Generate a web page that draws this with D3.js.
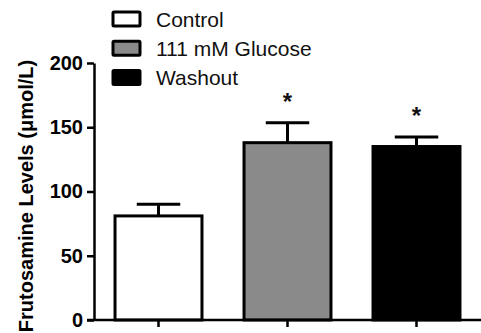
<!DOCTYPE html>
<html>
<head>
<meta charset="utf-8">
<script src="https://cdn.jsdelivr.net/npm/d3@7"></script>
<style>
  body { margin: 0; background: #fff; }
  svg { display: block; font-family: "Liberation Sans", Arial, sans-serif; }
</style>
</head>
<body>
<svg id="drawing_region"></svg>
<script>
// data
const groups = ["Control", "111 mM Glucose", "Washout"];
const means = [81, 138, 135];
const sems = [9, 15.5, 7.5];
const signif = [false, true, true];
const fills = ["#ffffff", "#8a8a8a", "#000000"];
const yticks = [0, 50, 100, 150, 200];

const width = 481, height = 333;
const margin = {top: 63, right: 0, bottom: 13, left: 94};

const svg = d3.select("#drawing_region")
    .attr("width", width)
    .attr("height", height);

const xscale = d3.scaleBand()
    .domain(groups)
    .range([margin.left, width - margin.right])
    .paddingInner(0.326)
    .paddingOuter(0.163);

const yscale = d3.scaleLinear()
    .domain([0, 200])
    .range([height - margin.bottom, margin.top]);

// bars
svg.selectAll("rect.bar")
    .data(groups)
    .enter()
    .append("rect")
    .attr("class", "bar")
    .attr("x", d => xscale(d))
    .attr("y", (d, i) => yscale(means[i]))
    .attr("width", xscale.bandwidth())
    .attr("height", (d, i) => yscale(0) - yscale(means[i]))
    .attr("fill", (d, i) => fills[i])
    .attr("stroke", "#000")
    .attr("stroke-width", 3);

// error bars (upper only)
const err = svg.append("g").attr("stroke", "#000").attr("stroke-width", 3);
groups.forEach((g, i) => {
    const cx = xscale(g) + xscale.bandwidth() / 2;
    err.append("line")
        .attr("x1", cx).attr("x2", cx)
        .attr("y1", yscale(means[i])).attr("y2", yscale(means[i] + sems[i]));
    err.append("line")
        .attr("x1", cx - xscale.bandwidth() / 4).attr("x2", cx + xscale.bandwidth() / 4)
        .attr("y1", yscale(means[i] + sems[i])).attr("y2", yscale(means[i] + sems[i]));
});

// asterisks
svg.selectAll("text.star")
    .data(groups.filter((g, i) => signif[i]))
    .enter()
    .append("text")
    .attr("class", "star")
    .attr("x", d => xscale(d) + xscale.bandwidth() / 2)
    .attr("y", d => { const i = groups.indexOf(d); return yscale(means[i] + sems[i]) - 13; })
    .attr("text-anchor", "middle")
    .attr("font-size", 24)
    .attr("font-weight", "bold")
    .attr("fill", "#111")
    .text("*");

// y axis
const yaxis = d3.axisLeft(yscale)
    .tickValues(yticks)
    .tickSize(7)
    .tickSizeOuter(0)
    .tickPadding(4);

const yg = svg.append("g")
    .attr("transform", `translate(${margin.left},0)`)
    .call(yaxis);
yg.select(".domain").attr("stroke-width", 2.5);
yg.selectAll(".tick line").attr("stroke-width", 2.5);
yg.selectAll(".tick text")
    .attr("font-size", 20)
    .attr("font-weight", "bold")
    .attr("font-family", "Liberation Sans, Arial, sans-serif")
    .attr("fill", "#000");

// x axis
const xaxis = d3.axisBottom(xscale)
    .tickSize(7)
    .tickSizeOuter(0)
    .tickFormat("");

const xg = svg.append("g")
    .attr("transform", `translate(0,${yscale(0)})`)
    .call(xaxis);
xg.select(".domain")
    .attr("d", `M${margin.left - 7},0H${width}`)
    .attr("stroke-width", 2.5);
xg.selectAll(".tick line").attr("stroke-width", 2.5);

// y label
svg.append("text")
    .attr("transform", "translate(33,196) rotate(-90)")
    .attr("text-anchor", "middle")
    .attr("font-size", 20)
    .attr("font-weight", "bold")
    .attr("fill", "#000")
    .text("Frutosamine Levels (\u03bcmol/L)");

// legend
const legend = svg.append("g");
groups.forEach((g, i) => {
    const cy = 19 + i * 29.3;
    legend.append("rect")
        .attr("x", 113).attr("y", cy - 7)
        .attr("width", 27).attr("height", 14)
        .attr("fill", fills[i])
        .attr("stroke", "#000")
        .attr("stroke-width", 3)
        .attr("rx", 1);
    legend.append("text")
        .attr("x", 156).attr("y", cy + 7.5)
        .attr("font-size", 21)
        .attr("fill", "#111")
        .text(g);
});
</script>
</body>
</html>
